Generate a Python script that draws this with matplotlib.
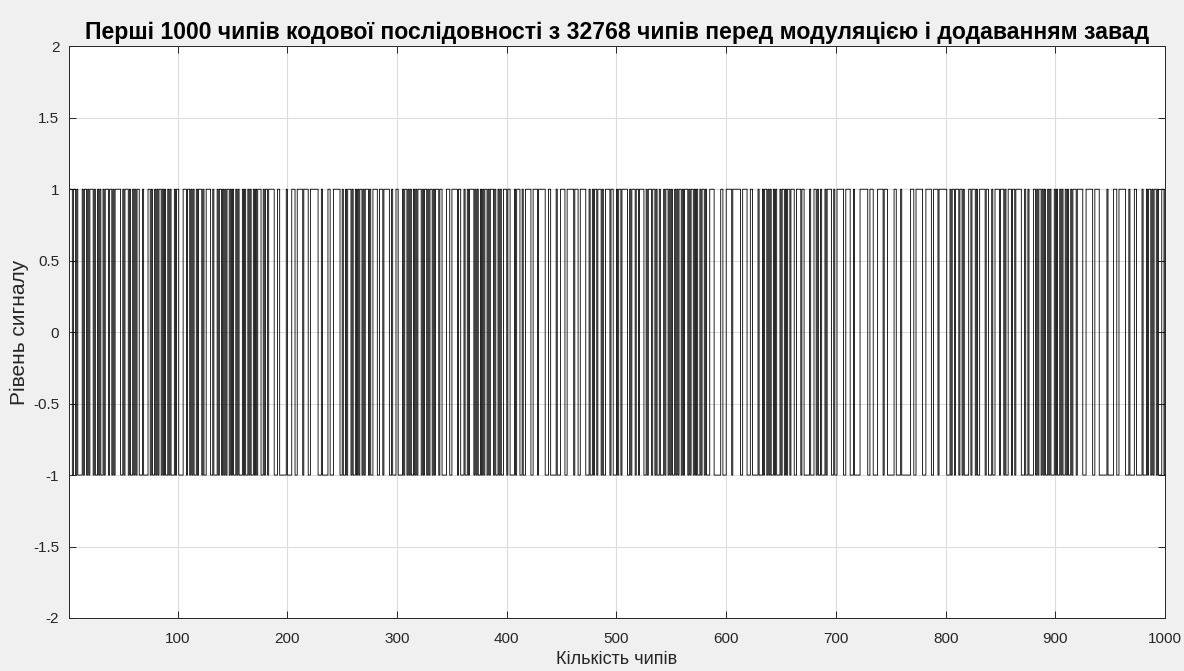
import numpy as np
import matplotlib.pyplot as plt

# run lengths of the chip sequence (alternating +1 / -1, starting with +1),
# estimated from the reference picture
run_lengths = [
    3, 1, 2, 1, 1, 4, 1, 1, 2, 1,   1, 1, 3, 1, 1, 2, 1, 1, 1, 2,
    1, 1, 3, 1, 2, 1, 1, 1, 5, 2,   1, 1, 3, 1, 1, 2, 1, 1, 1, 1,
    2, 3, 1, 4, 2, 1, 1, 2, 1, 1,   1, 1, 2, 1, 1, 1, 1, 2, 1, 1,
    1, 3, 1, 1, 2, 4, 3, 1, 2, 1,   1, 1, 1, 2, 1, 1, 3, 1, 1, 2,
    4, 2, 1, 3, 1, 1, 2, 1, 1, 1,   1, 1, 2, 1, 1, 1, 1, 2, 1, 1,
    1, 3, 1, 1, 1, 2, 1, 1, 1, 2,   1, 1, 1, 1, 3, 2, 1, 1, 2, 1,
    5, 3, 2, 6, 1, 4, 3, 2, 5, 1,   4, 2, 7, 3, 1, 5, 2, 3, 6, 2,
    1, 2, 1, 1, 3, 1, 1, 2, 1, 1,   1, 1, 2, 1, 1, 1, 3, 1, 1, 2,
    4, 2, 3, 1, 5, 2, 1, 3, 2, 4,   1, 1, 2, 1, 1, 1, 1, 2, 1, 1,
    1, 1, 3, 1, 1, 1, 2, 1, 1, 1,   2, 1, 1, 1, 3, 1, 2, 4, 3, 2,
    5, 1, 2, 3, 1, 2, 1, 1, 4, 1,   1, 1, 1, 2, 1, 1, 1, 1, 2, 1,
    1, 1, 3, 1, 1, 2, 1, 1, 1, 2,   3, 1, 2, 4, 1, 1, 3, 2, 1, 2,
    5, 2, 4, 1, 6, 3, 2, 5, 1, 3,   4, 2, 6, 1, 3, 2, 5, 3, 1, 2,
    1, 1, 2, 1, 3, 1, 1, 2, 4, 1,   2, 3, 1, 1, 2, 1, 5, 2, 1, 1,
    3, 1, 2, 1, 4, 2, 1, 1, 3, 1,   2, 1, 1, 2, 1, 3, 1, 1, 2, 1,
    1, 1, 1, 2, 1, 1, 1, 1, 2, 1,   1, 1, 3, 1, 1, 1, 2, 1, 1, 1,
    1, 2, 1, 1, 2, 1, 1, 3,
    4, 6, 2, 3, 5, 1, 7, 2, 4, 3,   2, 5, 1, 3,
    1, 1, 2, 1, 1, 1, 1, 2, 1, 1,   1, 3, 1, 1, 2, 1, 1, 1, 2, 1,
    3, 2, 4, 1, 2, 5, 1, 3, 2, 1,   1, 2, 1, 3, 1, 1, 4, 2, 1, 2,
    6, 2, 4, 3, 1, 5, 7, 2, 3, 4,   5, 1, 3, 6, 2, 4, 1, 8, 3, 2,
    6, 3, 5, 2, 4, 1, 7, 3,
    1, 1, 2, 1, 3, 1, 2, 1, 1, 4,   2, 1, 3, 1, 1, 2, 5, 1, 2, 3,
    1, 2, 4, 1, 3, 1, 1, 2, 3, 1,   2, 1, 5, 3, 1, 2, 1, 4, 2, 1,
    1, 1, 2, 1, 1, 1, 1, 2, 1, 1,   1, 3, 1, 1, 1, 2, 1, 1, 1, 2,
    1, 1, 1, 2, 1, 1, 3, 1,
    5, 3, 6, 2, 4, 7, 1, 5, 3, 2,   6, 3, 1, 4, 2, 5, 1, 3,
    1, 1, 2, 1, 1, 1, 2, 1, 1, 3, 2, 1, 1, 2,
]
n_chips = 1000
y_ticks = [-2, -1.5, -1, -0.5, 0, 0.5, 1, 1.5, 2]
y_ticklabels = ['-2', '-1.5', '-1', '-0.5', '0', '0.5', '1', '1.5', '2']
x_ticks = [100, 200, 300, 400, 500, 600, 700, 800, 900, 1000]

levels = np.where(np.arange(len(run_lengths)) % 2 == 0, 1, -1)
chips = np.repeat(levels, run_lengths)[:n_chips]
idx = np.arange(1, n_chips + 1)

plt.rcParams['font.family'] = ['Liberation Sans', 'DejaVu Sans']

fig = plt.figure(figsize=(11.84, 6.71), dpi=100, facecolor='#f0f0f0')
ax = fig.add_axes([0.0583, 0.079, 0.9257, 0.852])
ax.set_facecolor('white')

ax.step(idx, chips, where='post', color='black', linewidth=0.6)

ax.set_xlim(1, n_chips)
ax.set_ylim(-2, 2)
ax.set_xticks(x_ticks)
ax.set_yticks(y_ticks)
ax.set_yticklabels(y_ticklabels)
ax.grid(True, color='#dcdcdc', linewidth=0.8)
ax.set_axisbelow(True)
ax.tick_params(direction='in', top=True, right=True, length=5,
               labelsize=11, colors='#262626', width=0.7)
ax.tick_params(axis='x', pad=10)
ax.tick_params(axis='y', pad=7)
for s in ax.spines.values():
    s.set_color('#262626')
    s.set_linewidth(0.7)

ax.set_title('Перші 1000 чипів кодової послідовності з 32768 чипів перед модуляцією і додаванням завад',
             fontsize=16.6, fontweight='bold', color='black', pad=5)
ax.set_xlabel('Кількість чипів', fontsize=13, color='#262626', labelpad=4)
ax.set_ylabel('Рівень сигналу', fontsize=15, color='#262626', labelpad=3)

fig.savefig('out.png', dpi=100, facecolor=fig.get_facecolor())
